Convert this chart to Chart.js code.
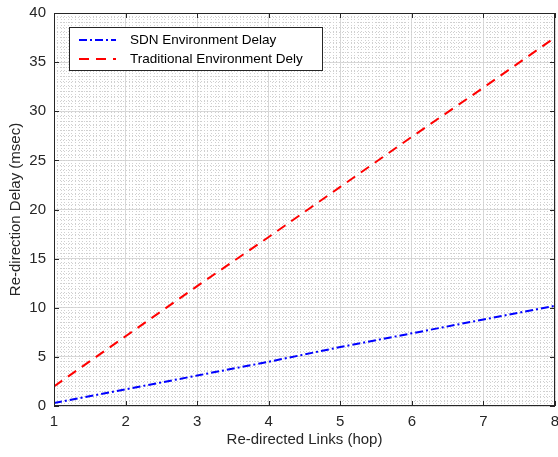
<!DOCTYPE html>
<html>
<head>
<meta charset="utf-8">
<script src="https://cdn.jsdelivr.net/npm/chart.js@4.4.0/dist/chart.umd.min.js"></script>
<style>
  html, body { margin: 0; padding: 0; background: #fff; }
  #wrap { width: 558px; height: 457px; }
</style>
</head>
<body>
<div id="wrap"><canvas id="myChartLine"></canvas></div>
<script>
// values
const hops = [1, 2, 3, 4, 5, 6, 7, 8];
const sdnDelay = [0.3, 1.7, 3.1, 4.5, 6.0, 7.4, 8.8, 10.2];
const tradDelay = [2.0, 7.1, 12.2, 17.2, 22.3, 27.4, 32.4, 37.5];
const xTicks = [1, 2, 3, 4, 5, 6, 7, 8];
const yTicks = [0, 5, 10, 15, 20, 25, 30, 35, 40];

const axisColor = '#262626';
const fontFam = '"Liberation Sans", Arial, sans-serif';

// box + inward ticks on all four sides, matlab style
const frame = {
  id: 'frame',
  afterDraw(chart) {
    const c = chart.ctx, a = chart.chartArea;
    const xs = chart.scales.x, ys = chart.scales.y;
    c.save();
    c.strokeStyle = axisColor;
    c.lineWidth = 1;
    c.strokeRect(Math.round(a.left) + 0.5, Math.round(a.top) + 0.5,
      Math.round(a.right - a.left) - 1, Math.round(a.bottom - a.top) - 1);
    c.beginPath();
    xTicks.forEach(v => {
      const px = Math.round(xs.getPixelForValue(v)) + 0.5;
      c.moveTo(px, a.bottom); c.lineTo(px, a.bottom - 5);
      c.moveTo(px, a.top); c.lineTo(px, a.top + 5);
    });
    yTicks.forEach(v => {
      const py = Math.round(ys.getPixelForValue(v)) + 0.5;
      c.moveTo(a.left, py); c.lineTo(a.left + 5, py);
      c.moveTo(a.right, py); c.lineTo(a.right - 5, py);
    });
    c.stroke();
    c.restore();
  }
};

// legend with a box around it, top left inside the axes
const boxLegend = {
  id: 'boxLegend',
  afterDraw(chart) {
    const c = chart.ctx;
    const x0 = 69.5, y0 = 27.5, w = 253, h = 43;
    c.save();
    c.fillStyle = '#fff';
    c.fillRect(x0, y0, w, h);
    c.strokeStyle = axisColor;
    c.lineWidth = 1;
    c.strokeRect(x0, y0, w, h);
    c.font = '13.5px ' + fontFam;
    c.textBaseline = 'middle';
    chart.data.datasets.forEach((ds, i) => {
      const y = 40 + i * 19;
      c.strokeStyle = ds.borderColor;
      c.lineWidth = 2;
      c.setLineDash(ds.borderDash);
      c.beginPath();
      c.moveTo(79, y); c.lineTo(116, y);
      c.stroke();
      c.setLineDash([]);
      c.fillStyle = '#000';
      c.fillText(ds.label, 130, y);
    });
    c.restore();
  }
};

const noPad = s => { s.paddingLeft = 0; s.paddingRight = 0; s.paddingTop = 0; s.paddingBottom = 0; };

const ctx = document.getElementById('myChartLine').getContext('2d');

grafico = new Chart(ctx, {
  type: 'scatter',
  data: {
    datasets: [{
      label: 'SDN Environment Delay',
      data: hops.map((h, i) => ({ x: h, y: sdnDelay[i] })),
      showLine: true,
      borderColor: '#0000ff',
      borderWidth: 2,
      borderDash: [8, 3, 2, 3],
      pointRadius: 0,
      fill: false
    }, {
      label: 'Traditional Environment Dely',
      data: hops.map((h, i) => ({ x: h, y: tradDelay[i] })),
      showLine: true,
      borderColor: '#ff0000',
      borderWidth: 2,
      borderDash: [10, 7],
      pointRadius: 0,
      fill: false
    }]
  },
  options: {
    responsive: true,
    maintainAspectRatio: false,
    animation: false,
    layout: { padding: { top: 13, right: 3, left: 0, bottom: 0 } },
    plugins: { legend: { display: false }, tooltip: { enabled: false } },
    scales: {
      x: {
        type: 'linear', min: 1, max: 8,
        afterFit: s => { s.height = 51; noPad(s); },
        afterBuildTicks: s => { s.ticks = xTicks.map(v => ({ value: v })); },
        ticks: { color: axisColor, padding: 7, font: { size: 15, family: fontFam } },
        grid: { color: '#dadada', drawTicks: false },
        border: { display: false },
        title: { display: true, text: 'Re-directed Links (hop)', color: axisColor,
          padding: { top: 0, bottom: 8 }, font: { size: 15, family: fontFam } }
      },
      y: {
        type: 'linear', min: 0, max: 40,
        afterFit: s => { s.width = 54; noPad(s); },
        afterBuildTicks: s => { s.ticks = yTicks.map(v => ({ value: v })); },
        ticks: { color: axisColor, padding: 8, font: { size: 15, family: fontFam } },
        grid: { color: '#dadada', drawTicks: false },
        border: { display: false },
        title: { display: true, text: 'Re-direction Delay (msec)', color: axisColor,
          padding: { top: 7, bottom: 0 }, font: { size: 15, family: fontFam } }
      },
      // minor grids
      x2: {
        type: 'linear', position: 'bottom', min: 1, max: 8,
        afterFit: s => { s.height = 0; noPad(s); },
        ticks: { display: false, stepSize: 0.05, maxTicksLimit: 1000, autoSkip: false },
        grid: { color: '#d0d0d0', drawTicks: false },
        border: { display: false, dash: [1, 2] }
      },
      y2: {
        type: 'linear', position: 'left', min: 0, max: 40,
        afterFit: s => { s.width = 0; noPad(s); },
        ticks: { display: false, stepSize: 0.5, maxTicksLimit: 1000, autoSkip: false },
        grid: { color: '#d0d0d0', drawTicks: false },
        border: { display: false, dash: [1, 2] }
      }
    }
  },
  plugins: [frame, boxLegend]
});
</script>
</body>
</html>
